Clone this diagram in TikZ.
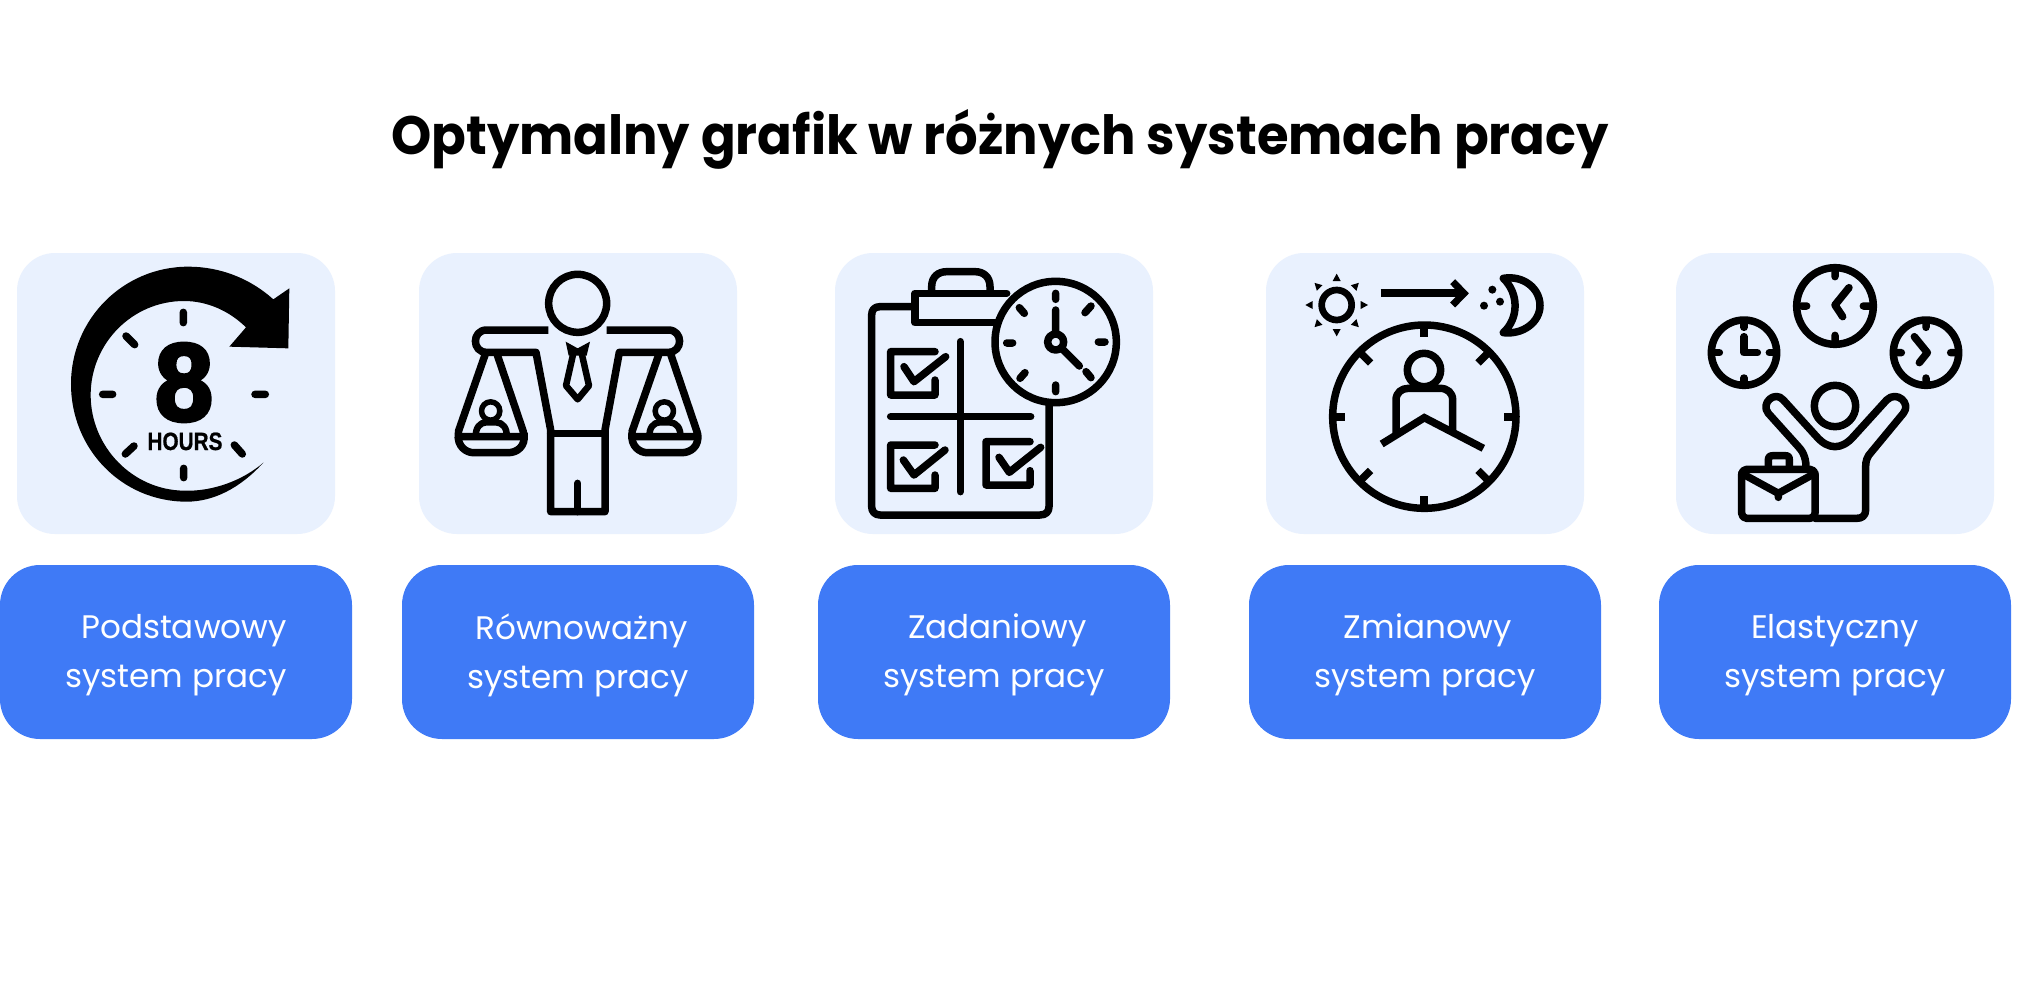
\documentclass[tikz,border=0pt]{standalone}
\usepackage{fontspec}
\usepackage{graphicx}
\usetikzlibrary{calc}
\setmainfont{Poppins}
\newfontfamily\iconfont{Liberation Sans}[BoldFeatures={FakeBold=3.5}]
\newfontfamily\iconfontb{Liberation Sans}[BoldFeatures={FakeBold=0.8}]
\definecolor{panelc}{HTML}{E9F1FE}
\definecolor{bluec}{HTML}{3F7AF6}
\tikzset{
  panel/.style={fill=panelc,rounded corners=38pt,draw=none},
  card/.style={fill=bluec,rounded corners=40pt,draw=none},
  cardtext/.style={text=white,align=center,font=\fontsize{32.6}{49}\selectfont},
  ink/.style={draw=black,line width=7.5pt,line cap=round,line join=round,fill=none},
  zoomA/.style={shift={(#1,240)},x=0.33333pt,y=-0.33333pt},
}
\begin{document}
\begin{tikzpicture}[x=1pt,y=-1pt]
\useasboundingbox (0,0) rectangle (2022,1002);
\fill[white] (0,0) rectangle (2022,1002);
\node[font=\bfseries\fontsize{54}{66}\selectfont,anchor=base] (title) at (1000,154) {\scalebox{0.948}[1]{Optymalny grafik w różnych systemach pracy}};

\foreach \nm/\x in {a/17,b/419,c/835,d/1266,e/1676}{
  \path[panel] (\x,253) rectangle ++(318,281);
}
\foreach \nm/\x in {a/0,b/402,c/818,d/1249,e/1659}{
  \path[card] (\x,565) rectangle ++(352,174);
}
\node[cardtext] (la) at (176,655) {\hspace*{16pt}Podstawowy\\system pracy};
\node[cardtext] (lb) at (578,655) {\hspace*{7pt}Równoważny\\system pracy};
\node[cardtext] (lc) at (994,655) {\hspace*{7pt}Zadaniowy\\system pracy};
\node[cardtext] (ld) at (1425,655) {\hspace*{6pt}Zmianowy\\system pracy};
\node[cardtext] (le) at (1835,655) {Elastyczny\\system pracy};

% icon 1
\begin{scope}[zoomA=0]
\fill[black] (790,668) .. controls (720,745) and (640,785) .. (560,785) .. controls (365,785) and (213,627) .. (213,432) .. controls (213,237) and (370,80) .. (565,80) .. controls (660,80) and (750,115) .. (820,178) -- (868,145) -- (865,325) -- (688,320) -- (738,262) .. controls (690,215) and (625,183) .. (552,183) .. controls (397,183) and (272,310) .. (272,465) .. controls (272,620) and (397,750) .. (552,752) .. controls (640,755) and (730,720) .. (790,668) -- cycle;
\draw[ink] (550,217)--(550,248) (378,288)--(404,314) (308,463)--(338,463) (765,463)--(796,463) (376,642)--(402,618) (703,615)--(727,642) (551,685)--(551,713);
\node[font=\iconfont\fontsize{110}{110}\selectfont\bfseries,inner sep=0pt,anchor=base] (eight) at (552,541) {\scalebox{0.95}[1]{8}};
\node[font=\iconfontb\fontsize{25}{25}\selectfont\bfseries,inner sep=0pt,anchor=base] (hours) at (555,630) {\scalebox{0.83}[1]{HOURS}};
\end{scope}

% icon 2
\begin{scope}[zoomA=410]
\draw[ink] (503,190) circle (87);
\draw[ink,line cap=butt] (415,270) -- (230,270) .. controls (185,270) and (185,337) .. (230,337) -- (378,337) -- (422,570) -- (422,815) -- (585,815) -- (585,570) -- (628,337) -- (775,337) .. controls (820,337) and (820,270) .. (775,270) -- (590,270);
\draw[ink] (422,580)--(585,580) (503,730)--(503,815);
\fill[black] (467,305)--(503,325)--(540,305)--(530,347)--(476,347)--cycle;
\draw[ink,line width=6.5pt] (490,340)--(468,437)--(503,478)--(537,437)--(515,340);
\foreach \dx in {0,521}{
  \begin{scope}[xshift=\dx*0.33333pt]
  \draw[ink] (225,345)--(145,575) (262,345)--(340,575) (150,590)--(338,590);
  \draw[ink] (145,580) .. controls (140,620) and (170,638) .. (190,638) -- (295,638) .. controls (320,638) and (348,620) .. (342,580);
  \draw[ink,line width=5.5pt] (242,513) circle (27.5);
  \draw[ink,line width=6.5pt] (198,590) .. controls (195,565) and (210,547) .. (228,547) -- (258,547) .. controls (278,547) and (292,565) .. (290,590);
  \end{scope}
}
\end{scope}

% icon 3
\begin{scope}[zoomA=830]
\draw[ink] (250,200)--(150,200) .. controls (133,200) and (125,210) .. (125,225) -- (125,800) .. controls (125,815) and (135,825) .. (150,825) -- (630,825) .. controls (648,825) and (657,815) .. (657,800) -- (657,490);
\draw[ink] (500,248)--(255,248)--(255,160)--(530,160);
\draw[ink] (305,155) -- (305,140) .. controls (305,110) and (325,95) .. (350,95) -- (435,95) .. controls (460,95) and (480,110) .. (480,140) -- (480,155);
\draw[ink] (677,306) circle (182);
\draw[ink] (677,160)--(677,178) (677,435)--(677,455) (530,309)--(548,309) (805,306)--(825,306) (568,203)--(583,220) (783,198)--(765,218) (585,398)--(570,415) (768,395)--(783,413) (677,210)--(677,280) (695,325)--(748,378);
\draw[ink] (677,306) circle (24);
\draw[ink] (315,335)--(182,335)--(182,465)--(315,465)--(315,420) (222,380)--(252,425)--(347,350);
\draw[ink] (315,615)--(182,615)--(182,745)--(315,745)--(315,705) (220,660)--(252,705)--(345,630);
\draw[ink] (600,605)--(468,605)--(468,735)--(600,735)--(600,692) (507,652)--(538,697)--(632,622);
\draw[ink] (182,530)--(602,530) (391,305)--(391,755);
\end{scope}

% icon 4
\begin{scope}[zoomA=1260]
\draw[ink,line width=6.7pt] (230,195) circle (45);
\foreach \a in {0,45,...,315}{
  \fill[black,shift={(230,195)},rotate=\a] (94,0)--(72,12)--(72,-12)--cycle;
}
\draw[ink,line cap=butt,line width=8pt] (362,160)--(600,160);
\draw[ink,line cap=butt,line join=miter,line width=7pt] (578,125)--(612,160)--(578,195);
\draw[ink] (730,115) .. controls (790,105) and (840,145) .. (840,197) .. controls (840,245) and (790,285) .. (730,278) .. controls (777,235) and (777,160) .. (730,115) -- cycle;
\fill[black] (697,149) circle (12) (720,185) circle (12) (672,197) circle (12);
\draw[ink,line cap=butt] (493,530) circle (275);
\draw[ink,line cap=butt,line width=8pt] (493,265)--(493,292) (493,768)--(493,795) (228,530)--(255,530) (733,530)--(760,530);
\foreach \a in {45,135,225,315}{
  \draw[ink,line cap=butt] ($(493,530)+(\a:228)$)--($(493,530)+(\a:270)$);
}
\draw[ink] (492,390) circle (50);
\draw[ink,line cap=butt] (408,580)--(408,480) .. controls (408,458) and (425,445) .. (445,445)--(540,445) .. controls (562,445) and (578,458) .. (578,480)--(578,575);
\draw[ink,line cap=butt,line join=miter,line width=7.5pt] (365,612)--(493,533)--(670,625);
\end{scope}

% icon 5
\begin{scope}[zoomA=1670]
\draw[ink] (495,198) circle (115);
\draw[ink] (495,90)--(495,110) (495,286)--(495,306) (395,198)--(410,198) (580,198)--(600,198) (537,143)--(495,195)--(518,230);
\draw[ink] (222,338) circle (98);
\draw[ink] (222,248)--(222,262) (222,414)--(222,428) (135,338)--(148,338) (298,338)--(312,338) (222,290)--(222,338)--(262,338);
\draw[ink] (768,338) circle (98);
\draw[ink] (768,248)--(768,262) (768,414)--(768,428) (680,338)--(694,338) (842,338)--(856,338) (733,290)--(772,338)--(748,368);
\draw[ink] (495,498) circle (62);
\draw[ink] (408,680) .. controls (408,650) and (395,630) .. (385,620) -- (295,520) .. controls (270,490) and (315,450) .. (340,480) -- (440,590) .. controls (475,630) and (515,630) .. (550,590) -- (650,480) .. controls (680,450) and (725,490) .. (700,520) -- (605,635) .. controls (590,650) and (587,665) .. (587,680) -- (587,810) .. controls (587,828) and (575,835) .. (560,835) -- (435,835);
\draw[ink,rounded corners=5pt,fill=panelc] (215,688) rectangle (435,835);
\draw[ink] (215,700)--(325,760)--(435,700) (325,760)--(325,772);
\draw[ink] (295,685)--(295,660) .. controls (295,650) and (300,647) .. (310,647) -- (345,647) .. controls (355,647) and (358,650) .. (358,660) -- (358,685);
\end{scope}
\end{tikzpicture}
\end{document}
